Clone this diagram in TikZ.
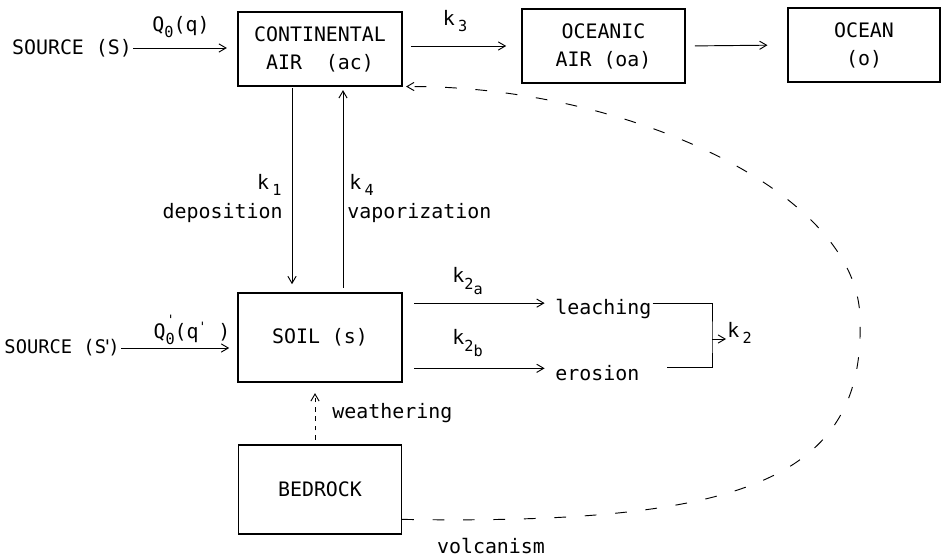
\documentclass[tikz,border=0pt]{standalone}
\usepackage{fontspec}
\setmonofont{DejaVu Sans Mono}
\usepackage{tikz}
\usetikzlibrary{arrows.meta,calc,positioning}
\newcommand{\lowidx}[1]{\raisebox{-0.6ex}{\fontsize{13}{13}\selectfont #1}}

\begin{document}
\begin{tikzpicture}[x=0.03cm,y=-0.03cm,>={Straight Barb[length=6pt,width=7pt]},
  font=\ttfamily\fontsize{17}{24}\selectfont,
  box/.style={draw,line width=1pt,align=center,inner sep=0pt,minimum height=2.22cm},
  txt/.style={inner sep=1pt},
  flow/.style={->,line width=0.8pt},
  volcline/.style={->,line width=0.8pt,dash pattern=on 10pt off 16pt}]
\useasboundingbox (0,0) rectangle (941,559);
% compartments
\node[box,minimum width=4.92cm] (ac) at (320,49) {CONTINENTAL\\AIR~~(ac)};
\node[box,minimum width=4.89cm] (oa) at (603.5,46) {OCEANIC\\AIR (oa)};
\node[box,minimum width=4.56cm] (o) at (864,45) {OCEAN\\(o)};
\node[box,minimum width=4.92cm,minimum height=2.67cm] (s) at (320,337.5) {SOIL (s)};
\node[box,minimum width=4.89cm,minimum height=2.67cm] (b) at (320,489.5) {BEDROCK};
% sources
\node[txt] (srcS) at (72,48) {SOURCE (S)};
\node[txt,anchor=east,font=\ttfamily\fontsize{16}{20}\selectfont] (srcSp) at (121,348) {SOURCE (S\rlap{\kern-0.22em'}\kern0.12em)};
\draw[flow,shorten >=9pt] (srcS.east) -- (srcS.east -| ac.west);
\node[txt] (qa) at (181,27) {Q\lowidx{0}(q)};
\draw[flow,shorten >=7pt] (srcSp.east) -- (srcSp.east -| s.west);
\node[txt] (qb) at (192,330) {Q\lowidx{0}\llap{\raisebox{1.3ex}{\fontsize{11}{11}\selectfont'}}(q\raisebox{0.6ex}{\fontsize{11}{11}\selectfont'}~)};
% air to ocean
\draw[flow,shorten <=7pt,shorten >=13pt] (ac.east |- oa.west) -- (oa.west);
\node[txt] (k3) at (455,21) {k\,\lowidx{3}};
\draw[flow,shorten <=8pt,shorten >=17pt] (oa.east) -- (o.west);
% air <-> soil
\draw[flow,shorten <=1.5pt,shorten >=7pt] ([xshift=-0.84cm]ac.south) -- ([xshift=-0.84cm]s.north);
\draw[flow,shorten <=4pt,shorten >=3pt] ([xshift=0.69cm]s.north) -- ([xshift=0.69cm]ac.south);
\node[txt,anchor=east] (k1) at (283,185) {k\,\lowidx{1}};
\node[txt,anchor=east] (dep) at (284,213) {deposition};
\node[txt,anchor=west] (k4) at (348,185) {k\,\lowidx{4}};
\node[txt,anchor=west] (vap) at (346,213) {vaporization};
% soil losses
\node[txt,anchor=west] (leach) at (554,309) {leaching};
\node[txt,anchor=west] (eros) at (554,373) {erosion};
\coordinate (la) at ([yshift=5pt]leach.west);
\coordinate (ea) at ([yshift=4pt]eros.west);
\draw[flow,shorten <=10pt,shorten >=8pt] (s.east |- la) -- (la);
\draw[flow,shorten <=10pt,shorten >=8pt] (s.east |- ea) -- (ea);
\node[txt,anchor=west] (k2a) at (451,281) {k\lowidx{2\lowidx{a}}};
\node[txt,anchor=west] (k2b) at (451,343) {k\lowidx{2\lowidx{b}}};
\coordinate (k2in) at (712,339);
\coordinate (lb) at ([yshift=5pt]leach.east);
\coordinate (eb) at ([xshift=0.8cm,yshift=5pt]eros.east);
\draw[line width=0.8pt] (lb) -| (k2in) |- (eb);
\node[txt,anchor=west] (k2) at (726,333) {k\,\lowidx{2}};
\draw[flow] (k2in) -- (k2in -| k2.west);
% bedrock
\draw[flow,dash pattern=on 4pt off 4pt,shorten <=4pt,shorten >=9pt] ([xshift=-0.15cm]b.north) -- ([xshift=-0.15cm]s.south);
\node[txt,anchor=west] (weath) at (331,413) {weathering};
\coordinate (vtop) at (860,320);
\draw[volcline,shorten >=3pt] ([yshift=-25.5pt]b.east) .. controls (740,525) and (865,480) .. (vtop)
  .. controls (860,190) and (620,85) .. (ac.south east);
\node[txt] (volc) at (491,546) {volcanism};
\end{tikzpicture}
\end{document}
